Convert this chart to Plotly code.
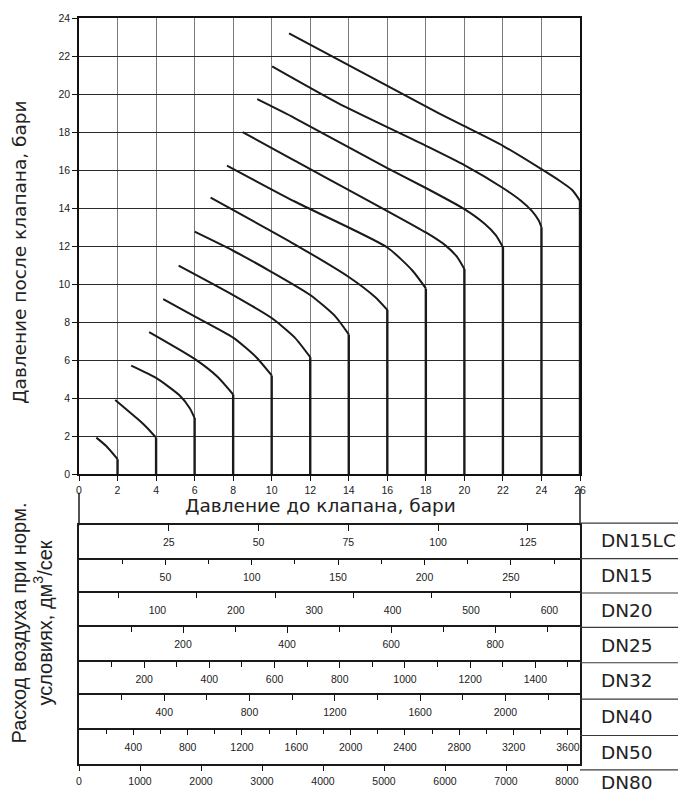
import plotly.graph_objects as go

# ---------------- data ----------------
# Upstream (inlet) pressure of each curve, bar
inlet_pressure = [2, 4, 6, 8, 10, 12, 14, 16, 18, 20, 22, 24, 26]

# Sloping part of each curve: upstream pressure (x) and downstream pressure (y), bar
curve_x = [
    [0.9, 1.4, 2.0],
    [1.88, 3.18, 3.53, 4.0],
    [2.71, 4.0, 5.2, 5.75, 6.0],
    [3.64, 6.0, 7.2, 8.0],
    [4.37, 6.0, 8.0, 9.2, 10.0],
    [5.17, 8.0, 10.0, 11.2, 12.0],
    [6.0, 8.0, 10.0, 12.0, 13.3, 14.0],
    [6.83, 11.19, 14.0, 15.35, 16.0],
    [7.68, 11.19, 16.0, 17.3, 18.0],
    [8.49, 11.19, 18.0, 19.03, 19.62, 20.0],
    [9.25, 11.19, 16.0, 18.0, 20.0, 21.05, 21.63, 22.0],
    [10.02, 13.44, 18.0, 20.0, 22.0, 22.95, 23.5, 23.86, 24.0],
    [10.9, 18.68, 20.0, 22.0, 24.0, 25.0, 25.58, 25.9, 26.0],
]
curve_y = [
    [1.93, 1.5, 0.8],
    [3.91, 2.79, 2.45, 1.93],
    [5.72, 5.07, 4.17, 3.48, 2.96],
    [7.48, 6.07, 5.12, 4.2],
    [9.22, 8.31, 7.19, 6.16, 5.2],
    [10.98, 9.43, 8.22, 7.19, 6.16],
    [12.76, 11.76, 10.64, 9.43, 8.31, 7.36],
    [14.55, 12.1, 10.38, 9.34, 8.65],
    [16.24, 14.35, 11.93, 10.72, 9.78],
    [18.0, 16.5, 12.72, 12.03, 11.44, 10.8],
    [19.73, 18.74, 16.1, 15.06, 13.95, 13.18, 12.58, 11.95],
    [21.45, 19.52, 17.28, 16.26, 15.06, 14.38, 13.86, 13.35, 13.0],
    [23.19, 18.99, 18.31, 17.28, 16.05, 15.4, 14.97, 14.54, 14.37],
]

main_x_ticks = [0, 2, 4, 6, 8, 10, 12, 14, 16, 18, 20, 22, 24, 26]
main_y_ticks = [0, 2, 4, 6, 8, 10, 12, 14, 16, 18, 20, 22, 24]

# Flow scales (air flow at normal conditions, dm3/s) for each valve size
dn_names = ["DN15LC", "DN15", "DN20", "DN25", "DN32", "DN40", "DN50", "DN80"]
dn_full_scale = [139.5, 290, 639, 963, 1537, 2350, 3689, 8213]
dn_label_vals = [
    [25, 50, 75, 100, 125],
    [50, 100, 150, 200, 250],
    [100, 200, 300, 400, 500, 600],
    [200, 400, 600, 800],
    [200, 400, 600, 800, 1000, 1200, 1400],
    [400, 800, 1200, 1600, 2000],
    [400, 800, 1200, 1600, 2000, 2400, 2800, 3200, 3600],
    [0, 1000, 2000, 3000, 4000, 5000, 6000, 7000, 8000],
]
dn_tick_vals = [
    [25, 50, 75, 100, 125],
    [25, 50, 75, 100, 125, 150, 175, 200, 225, 250, 275],
    [50, 150, 250, 350, 450, 550],
    [100, 200, 300, 400, 500, 600, 700, 800, 900],
    [100, 200, 300, 400, 500, 600, 700, 800, 900, 1000, 1100, 1200, 1300, 1400, 1500],
    [200, 400, 600, 800, 1000, 1200, 1400, 1600, 1800, 2000, 2200],
    [200, 400, 600, 800, 1000, 1200, 1400, 1600, 1800, 2000, 2200, 2400, 2600, 2800,
     3000, 3200, 3400, 3600],
    [0, 1000, 2000, 3000, 4000, 5000, 6000, 7000, 8000],
]

x_title = "Давление до клапана, бари"
y_title = "Давление после клапана, бари"
flow_title = "Расход воздуха при норм.<br>условиях, дм<sup>3</sup>/сек"

# ---------------- layout geometry (pixels) ----------------
W, H = 678, 799
ML, MR, MT, MB = 79, 98, 13, 27
PW = W - ML - MR
PH = H - MT - MB


def py(p):  # pixel row -> paper y
    return (H - MB - p) / PH


def pxx(p):  # pixel column -> paper x
    return (p - ML) / PW


main_bottom_px = 477.3
band_tops_px = [529, 564, 598, 633, 668, 702, 737]
band_bottom_px = 772
dn_sep_px = [527, 563, 598, 633, 669, 706, 743, 778]
dn_label_px = [545, 580, 615.5, 651, 687.5, 724, 760, 791]

INK = "#1a1a1a"
TICKFONT = dict(family="Liberation Sans, Arial, sans-serif", size=10.5, color="#222")
TITLEFONT = dict(family="DejaVu Sans, Verdana, sans-serif", size=18.5, color="#222")

fig = go.Figure()

# ---------------- main pressure chart ----------------
for p1, cx, cy in zip(inlet_pressure, curve_x, curve_y):
    fig.add_trace(go.Scatter(x=cx, y=cy, mode="lines",
                             line=dict(color=INK, width=2, shape="spline", smoothing=0.6),
                             xaxis="x", yaxis="y", showlegend=False, hoverinfo="skip"))
    fig.add_trace(go.Scatter(x=[p1, p1], y=[cy[-1], 0], mode="lines",
                             line=dict(color=INK, width=2.4),
                             xaxis="x", yaxis="y", showlegend=False, hoverinfo="skip"))

layout = dict(
    width=W, height=H,
    margin=dict(l=ML, r=MR, t=MT, b=MB, pad=0),
    paper_bgcolor="white", plot_bgcolor="white",
    showlegend=False,
    xaxis=dict(domain=[0, 1], anchor="y", range=[0, 26], tickmode="array",
               tickvals=main_x_ticks, ticktext=[str(v) for v in main_x_ticks],
               ticks="outside", ticklen=5, tickwidth=1.2, tickcolor="#111",
               tickfont=TICKFONT, showgrid=True, gridcolor="#7a7a7a", gridwidth=1.3,
               showline=True, linecolor="#111", linewidth=1.6, mirror=True,
               zeroline=False, fixedrange=True),
    yaxis=dict(domain=[py(main_bottom_px), 1], anchor="x", range=[0, 24], tickmode="array",
               tickvals=main_y_ticks, ticktext=[str(v) for v in main_y_ticks],
               ticks="outside", ticklen=5, tickwidth=1.2, tickcolor="#111",
               tickfont=TICKFONT, showgrid=True, gridcolor="#2a2a2a", gridwidth=1.1,
               showline=True, linecolor="#111", linewidth=1.6, mirror=True,
               zeroline=False, fixedrange=True),
)

# ---------------- flow bands ----------------
band_edges = band_tops_px + [band_bottom_px]
for k in range(7):
    n = k + 2
    labels = dn_label_vals[k]
    minor = [v for v in dn_tick_vals[k] if v not in labels]
    has_major_tick = all(v in dn_tick_vals[k] for v in labels)
    tlen = 6 if has_major_tick else 0
    fig.add_trace(go.Scatter(x=[None], y=[None], xaxis=f"x{n}", yaxis=f"y{n}",
                             showlegend=False, hoverinfo="skip"))
    layout[f"xaxis{n}"] = dict(
        domain=[0, 1], anchor=f"y{n}", side="top", range=[0, dn_full_scale[k]],
        tickmode="array", tickvals=labels, ticktext=[str(v) for v in labels],
        ticks="inside", ticklen=tlen, tickwidth=1.3, tickcolor="#111",
        ticklabelposition="inside", ticklabelstandoff=13 - tlen, tickfont=TICKFONT,
        minor=dict(tickmode="array", tickvals=minor, ticks="inside", ticklen=5,
                   tickwidth=1.3, tickcolor="#111", showgrid=False),
        showline=True, linecolor="#1a1a1a", linewidth=1.5, showgrid=False,
        zeroline=False, fixedrange=True)
    layout[f"yaxis{n}"] = dict(
        domain=[py(band_edges[k + 1]), py(band_edges[k])], anchor=f"x{n}",
        range=[0, 1], showticklabels=False, ticks="", showgrid=False, zeroline=False,
        showline=True, linecolor="#1a1a1a", linewidth=1.5, mirror=True, fixedrange=True)

# DN80 scale along the bottom edge
fig.add_trace(go.Scatter(x=[None], y=[None], xaxis="x9", yaxis="y8",
                         showlegend=False, hoverinfo="skip"))
layout["xaxis9"] = dict(
    overlaying="x8", anchor="y8", side="bottom", range=[0, dn_full_scale[7]],
    tickmode="array", tickvals=dn_label_vals[7], ticktext=[str(v) for v in dn_label_vals[7]],
    ticks="outside", ticklen=5, tickwidth=1.2, tickcolor="#111", tickfont=TICKFONT,
    ticklabelstandoff=2,
    showline=True, linecolor="#1a1a1a", linewidth=1.5, showgrid=False, zeroline=False,
    fixedrange=True)

fig.update_layout(**layout)

# ---------------- frame lines & DN column ----------------
shapes = [
    dict(type="line", xref="paper", yref="paper", x0=0, x1=0, y0=py(496), y1=py(529),
         line=dict(color="#1a1a1a", width=1.5)),
    dict(type="line", xref="paper", yref="paper", x0=1, x1=1, y0=py(492), y1=py(529),
         line=dict(color="#1a1a1a", width=1.5)),
]
for s in dn_sep_px:
    shapes.append(dict(type="line", xref="paper", yref="paper", x0=1, x1=pxx(W),
                       y0=py(s), y1=py(s), line=dict(color="#3a3a3a", width=1.2)))
fig.update_layout(shapes=shapes)

annotations = [
    dict(text=x_title, x=pxx(320), y=py(509), xref="paper", yref="paper",
         showarrow=False, font=TITLEFONT, xanchor="center", yanchor="middle"),
    dict(text=y_title, x=pxx(20), y=py(252), xref="paper", yref="paper",
         showarrow=False, font=TITLEFONT, textangle=-90, xanchor="center", yanchor="middle"),
    dict(text=flow_title, x=pxx(32), y=py(629), xref="paper", yref="paper",
         showarrow=False, textangle=-90, xanchor="center", yanchor="middle",
         font=dict(family="Liberation Sans, Arial, sans-serif", size=20, color="#222")),
]
for name, yp in zip(dn_names, dn_label_px):
    annotations.append(dict(text=name, x=pxx(599), y=py(yp), xref="paper", yref="paper",
                            showarrow=False, xanchor="left", yanchor="middle",
                            font=dict(family="DejaVu Sans, Verdana, sans-serif", size=18.5,
                                      color="#222")))
fig.update_layout(annotations=annotations)

fig.write_html("out.html")
